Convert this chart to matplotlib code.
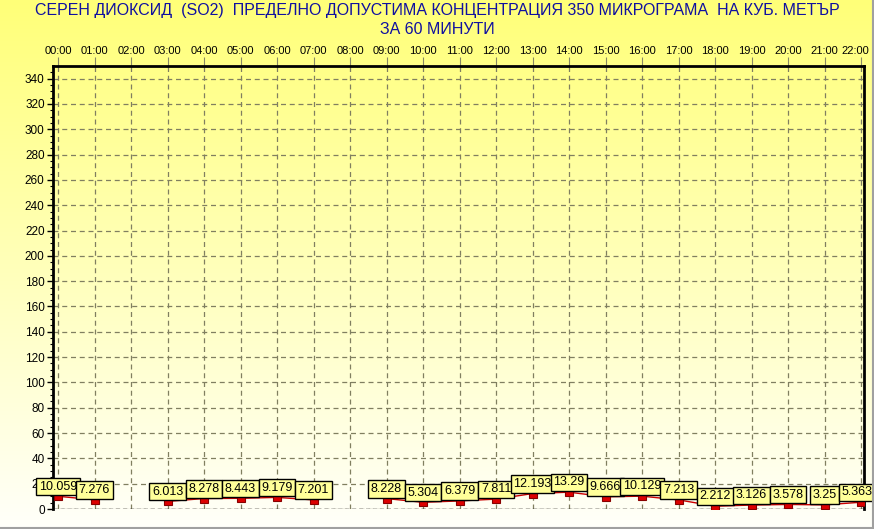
import numpy as np
import matplotlib.pyplot as plt
import matplotlib.transforms as mtransforms
from matplotlib.lines import Line2D

plt.rcParams['font.family'] = ['Liberation Sans', 'DejaVu Sans']

# hourly SO2 values (None = no measurement)
hours = ["00:00", "01:00", "02:00", "03:00", "04:00", "05:00", "06:00", "07:00",
         "08:00", "09:00", "10:00", "11:00", "12:00", "13:00", "14:00", "15:00",
         "16:00", "17:00", "18:00", "19:00", "20:00", "21:00", "22:00"]
values = [10.059, 7.276, None, 6.013, 8.278, 8.443, 9.179, 7.201,
          None, 8.228, 5.304, 6.379, 7.811, 12.193, 13.29, 9.666,
          10.129, 7.213, 2.212, 3.126, 3.578, 3.25, 5.363]
labels = ["10.059", "7.276", "", "6.013", "8.278", "8.443", "9.179", "7.201",
          "", "8.228", "5.304", "6.379", "7.811", "12.193", "13.29", "9.666",
          "10.129", "7.213", "2.212", "3.126", "3.578", "3.25", "5.363"]

title = ("СЕРЕН ДИОКСИД  (SO2)  ПРЕДЕЛНО ДОПУСТИМА КОНЦЕНТРАЦИЯ 350 МИКРОГРАМА  НА КУБ. МЕТЪР\n"
         "ЗА 60 МИНУТИ")

fig = plt.figure(figsize=(8.74, 5.29), dpi=100)

# yellow -> white background gradient over the whole figure
bg = fig.add_axes([0, 0, 1, 1], zorder=-10)
grad = np.linspace(0, 1, 256).reshape(-1, 1)
top = np.array([255, 255, 120]) / 255
bot = np.array([255, 255, 250]) / 255
img = top + (bot - top) * grad[:, :, None]
bg.imshow(img, aspect='auto', extent=[0, 1, 0, 1])
bg.set_axis_off()

ax = fig.add_axes([53 / 874, 1 - 509 / 529, 811 / 874, 443 / 529])
ax.patch.set_alpha(0)

x = np.arange(len(hours))
y = np.array([np.nan if v is None else v for v in values])

ax.plot(x, y, color='#cc0000', lw=1, zorder=3)
ax.plot(x, y, ls='none', marker='s', ms=5.5, mfc='#dd0000', mec='#880000', mew=0.8, zorder=4)

for i, (xi, v, lab) in enumerate(zip(x, values, labels)):
    if v is None:
        continue
    dx = -3 if i == len(x) - 1 else 0  # keep the last box inside the frame
    ax.annotate(lab, (xi, v), xytext=(dx, 7), textcoords='offset points',
                ha='center', va='center', fontsize=9, color='black',
                bbox=dict(boxstyle='square,pad=0.22', fc='#ffff99', ec='black', lw=1),
                zorder=6, annotation_clip=False, clip_on=False)

ax.set_xlim(-0.137, 22.08)
ax.set_ylim(0, 350)
ax.set_xticks(x)
ax.set_xticklabels(hours)
ax.set_yticks(np.arange(0, 341, 20))
ax.set_yticks(np.arange(0, 350, 5), minor=True)
ax.xaxis.tick_top()
ax.tick_params(axis='x', length=6.5, width=0.8, color='#888866', labelsize=8, pad=0.5)
ax.tick_params(axis='y', which='major', length=4, width=1, labelsize=8.5, pad=2)
ax.tick_params(axis='y', which='minor', length=2, width=0.8)

# last hour label is pulled inside the figure, as in the original
last = ax.get_xticklabels()[-1]
last.set_transform(last.get_transform() + mtransforms.ScaledTranslation(-6 / 100, 0, fig.dpi_scale_trans))

ax.grid(True, which='major', ls=(0, (4, 3)), color='#807f60', lw=0.9)
ax.axhline(0, color='black', ls=(0, (3, 2)), lw=1, zorder=2)

ax.spines['bottom'].set_visible(False)
for s in ['left', 'top', 'right']:
    ax.spines[s].set_linewidth(2)
    ax.spines[s].set_color('black')

fig.text(0.5, 0.995, title, ha='center', va='top', fontsize=11.5,
         color='#1010a0', linespacing=1.35)

# grey sunken border on right and bottom
fig.add_artist(Line2D([0, 872.5 / 874], [1.5 / 529, 1.5 / 529], color='#a0a0a0', lw=1.5))
fig.add_artist(Line2D([872.5 / 874, 872.5 / 874], [1.5 / 529, 1], color='#a0a0a0', lw=1.5))

fig.savefig('out.png', dpi=100)
